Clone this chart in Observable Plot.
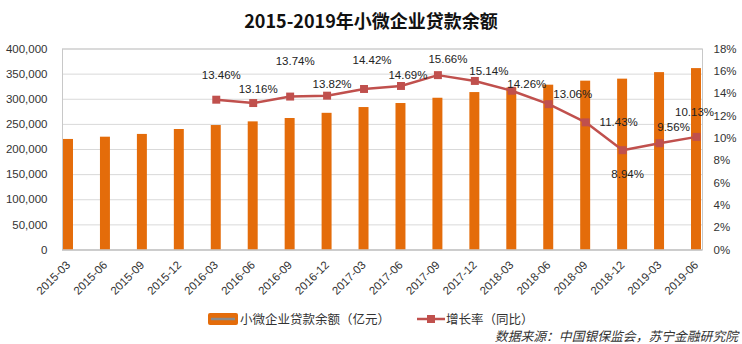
<!DOCTYPE html>
<html>
<head>
<meta charset="utf-8">
<script src="https://cdn.jsdelivr.net/npm/d3@7"></script>
<script src="https://cdn.jsdelivr.net/npm/@observablehq/plot@0.6"></script>
<style>
  html, body { margin: 0; padding: 0; background: #fff; }
  #wrap { width: 742px; height: 344px; position: relative; overflow: hidden; font-family: "Liberation Sans", "Noto Sans CJK SC", sans-serif; }
  #title { height: 38px; line-height: 41px; text-align: center; font-family: "Noto Sans CJK SC", sans-serif; font-weight: bold; font-size: 18px; color: #111; padding-left: 0px; }
  #legend { position: relative; height: 38px; font-family: "Noto Sans CJK SC", sans-serif; color: #333; }
  .leg { position: absolute; top: 3px; display: flex; align-items: center; font-size: 12.5px; }
  #caption { position: absolute; right: 4px; top: 20px; font-family: "Noto Sans CJK SC", sans-serif; font-style: italic; font-size: 12.8px; color: #333; }
</style>
</head>
<body>
<div id="wrap">
  <div id="title">2015-2019年小微企业贷款余额</div>
  <div id="chart"></div>
  <div id="legend">
    <div class="leg" style="left:208px">
      <svg width="31" height="14"><rect x="0" y="1" width="30" height="12" rx="2" fill="#E46C0A"></rect><line x1="3" x2="27" y1="7" y2="7" stroke="#8a8a8a" stroke-width="2.5"></line></svg>
      <span style="margin-left:1px">小微企业贷款余额（亿元）</span>
    </div>
    <div class="leg" style="left:417px">
      <svg width="29" height="14"><line x1="0" x2="28" y1="7" y2="7" stroke="#C0504D" stroke-width="2.5"></line><rect x="10" y="3" width="8" height="8" fill="#C0504D"></rect></svg>
      <span>增长率（同比）</span>
    </div>
    <div id="caption">数据来源：中国银保监会，苏宁金融研究院</div>
  </div>
</div>
<script>
// ---- data ----
const quarters = ["2015-03","2015-06","2015-09","2015-12","2016-03","2016-06","2016-09","2016-12","2017-03","2017-06","2017-09","2017-12","2018-03","2018-06","2018-09","2018-12","2019-03","2019-06"];
const balances = [220000, 224500, 230000, 239800, 247700, 255000, 261700, 272000, 283500, 291500, 302000, 313300, 322500, 328000, 336000, 340000, 353000, 361000];
const growthQuarters = ["2016-03","2016-06","2016-09","2016-12","2017-03","2017-06","2017-09","2017-12","2018-03","2018-06","2018-09","2018-12","2019-03","2019-06"];
const growthRates = [13.46, 13.16, 13.74, 13.82, 14.42, 14.69, 15.66, 15.14, 14.26, 13.06, 11.43, 8.94, 9.56, 10.13];
const leftTicks = [0, 50000, 100000, 150000, 200000, 250000, 300000, 350000, 400000];
const rightTicks = [0, 2, 4, 6, 8, 10, 12, 14, 16, 18];

// layout only: label offsets (px) relative to each marker
const labelDx = [5, 5, 5, 5, 8, 7, 10, 14, 15, 24, 33, 5, 14, -2];
const labelDy = [-24, -14, -35, -11, -29, -11, -16, -10, -6, -10, 0, 24, -16, -25];

// ---- chart ----
const K = 400000 / 18; // map % onto the left scale
const bars = quarters.map((q, i) => ({q, v: balances[i]}));
const growth = growthQuarters.map((q, i) => ({q, g: growthRates[i], y: growthRates[i] * K, dx: labelDx[i], dy: labelDy[i]}));

const labelMarks = growth.map(d => Plot.text([d], {
  x: "q", y: "y", text: d => d.g.toFixed(2) + "%", dx: d.dx, dy: d.dy,
  fill: "#222", fontSize: 11.5
}));

const chart = Plot.plot({
  width: 742,
  height: 268,
  marginTop: 10.5,
  marginBottom: 56.5,
  marginLeft: 62,
  marginRight: 40,
  style: {fontFamily: "Liberation Sans, sans-serif", fontSize: "11.5px", color: "#333", background: "#fff"},
  x: {type: "band", domain: quarters, paddingInner: 0.73, paddingOuter: 0.0275, round: false},
  y: {domain: [0, 400000], nice: false},
  marks: [
    Plot.gridY(leftTicks, {stroke: "#d9d9d9", strokeOpacity: 1}),
    Plot.frame({stroke: "#c8c8c8"}),
    Plot.barY(bars, {x: "q", y: "v", fill: "#E46C0A"}),
    Plot.ruleY([0], {stroke: "#bfbfbf"}),
    Plot.lineY(growth, {x: "q", y: "y", stroke: "#C0504D", strokeWidth: 2.5}),
    Plot.dot(growth, {x: "q", y: "y", symbol: "square", r: 4.5, fill: "#C0504D"}),
    ...labelMarks,
    Plot.axisY(leftTicks, {anchor: "left", tickFormat: d3.format(","), tickSize: 0, tickPadding: 15, label: null}),
    Plot.axisY(rightTicks.map(p => p * K), {anchor: "right", tickFormat: d => Math.round(d / K) + "%", tickSize: 0, tickPadding: 11, label: null}),
    Plot.axisX({tickRotate: -45, tickSize: 0, tickPadding: 13, label: null})
  ]
});
document.getElementById("chart").appendChild(chart);
</script>
</body>
</html>
